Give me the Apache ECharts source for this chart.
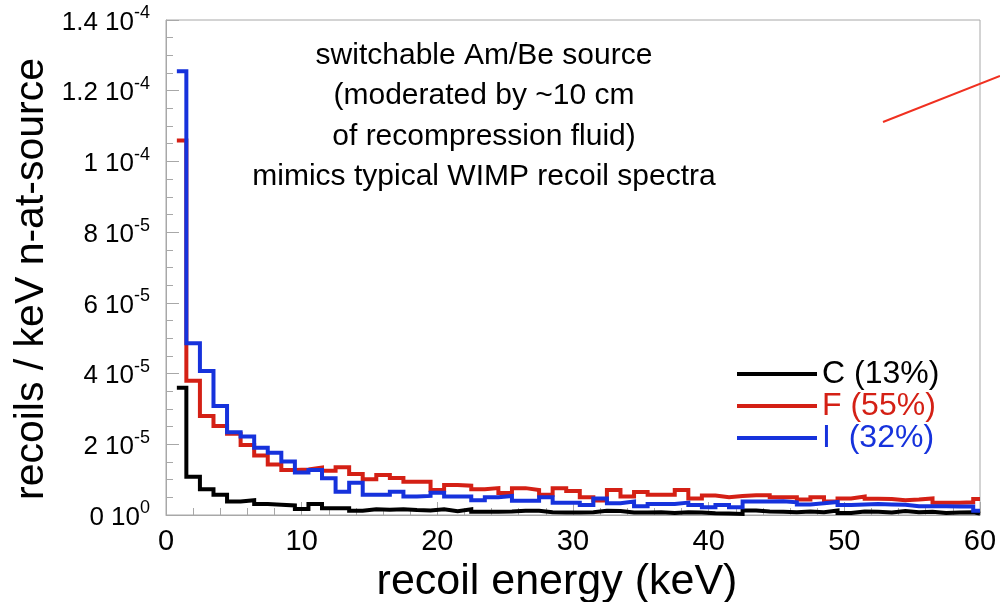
<!DOCTYPE html>
<html>
<head>
<meta charset="utf-8">
<script src="https://cdn.jsdelivr.net/npm/echarts@6/dist/echarts.min.js"></script>
<style>
html,body{margin:0;padding:0;background:#fff;}
#chart{width:1000px;height:602px;}
</style>
</head>
<body>
<div id="chart"></div>
<script>
// Bin lower edges (keV); the histogram ends at xEnd
const binEdges = [0.8,1.5,2.5,3.5,4.5,5.5,6.5,7.5,8.5,9.5,10.5,11.5,12.5,13.5,14.5,15.5,16.5,17.5,18.5,19.5,
  20.5,21.5,22.5,23.5,24.5,25.5,26.5,27.5,28.5,29.5,30.5,31.5,32.5,33.5,34.5,35.5,36.5,37.5,38.5,39.5,
  40.5,41.5,42.5,43.5,44.5,45.5,46.5,47.5,48.5,49.5,50.5,51.5,52.5,53.5,54.5,55.5,56.5,57.5,58.5,59.5];
const xEnd = 60;

const carbon = [3.6e-5,1.08e-5,7.3e-6,5.7e-6,3.8e-6,4.2e-6,3.1e-6,2.9e-6,2.7e-6,1.7e-6,
  3.1e-6,1.9e-6,1.9e-6,1.2e-6,1.6e-6,1.5e-6,1.6e-6,1.4e-6,1.3e-6,1.6e-6,
  1.1e-6,1.6e-6,0.9e-6,0.9e-6,1.0e-6,1.2e-6,1.2e-6,0.8e-6,0.7e-6,0.7e-6,
  0.8e-6,1.2e-6,1.1e-6,0.7e-6,0.7e-6,0.8e-6,0.6e-6,0.8e-6,0.7e-6,0.5e-6,
  0.4e-6,0.3e-6,1.3e-6,1.0e-6,0.9e-6,0.8e-6,1.0e-6,0.8e-6,1.3e-6,0.6e-6,
  1.0e-6,0.9e-6,0.7e-6,1.1e-6,0.8e-6,0.9e-6,0.6e-6,0.7e-6,0.8e-6,0.4e-6];

const fluorine = [1.059e-4,3.8e-5,2.80e-5,2.52e-5,2.30e-5,1.98e-5,1.68e-5,1.43e-5,1.27e-5,1.29e-5,
  1.34e-5,1.25e-5,1.35e-5,1.16e-5,1.01e-5,1.13e-5,1.05e-5,9.4e-6,9.4e-6,7.1e-6,
  8.5e-6,8.3e-6,7.3e-6,7.6e-6,6.2e-6,7.6e-6,7.1e-6,5.7e-6,7.6e-6,6.8e-6,
  5.0e-6,4.1e-6,7.1e-6,5.2e-6,6.5e-6,5.7e-6,5.7e-6,7.1e-6,4.7e-6,5.5e-6,
  5.0e-6,5.4e-6,5.6e-6,5.6e-6,5.0e-6,5.0e-6,4.4e-6,5.0e-6,3.8e-6,4.7e-6,
  5.2e-6,4.6e-6,4.5e-6,4.2e-6,4.4e-6,4.7e-6,3.5e-6,3.5e-6,3.6e-6,4.5e-6];

const iodine = [1.255e-4,4.86e-5,4.07e-5,3.08e-5,2.34e-5,2.22e-5,1.90e-5,1.76e-5,1.51e-5,1.20e-5,
  1.27e-5,1.04e-5,6.6e-6,9.1e-6,5.7e-6,5.7e-6,6.6e-6,5.2e-6,5.4e-6,6.3e-6,
  5.2e-6,5.2e-6,4.2e-6,5.0e-6,5.4e-6,4.0e-6,4.0e-6,5.0e-6,3.5e-6,3.5e-6,
  2.8e-6,4.7e-6,3.3e-6,3.8e-6,2.5e-6,3.1e-6,3.1e-6,3.5e-6,2.8e-6,2.2e-6,
  2.8e-6,2.2e-6,3.8e-6,3.8e-6,3.9e-6,3.6e-6,3.0e-6,3.3e-6,3.7e-6,2.8e-6,
  3.0e-6,3.1e-6,3.0e-6,2.9e-6,2.5e-6,2.5e-6,2.5e-6,2.4e-6,2.4e-6,1.2e-6];

const seriesNames = ['C (13%)', 'F (55%)', 'I  (32%)'];
const seriesColors = ['#000000', '#d42015', '#1632dc'];

const yTickMantissa = ['0','2','4','6','8','1','1.2','1.4'];
const yTickExponent = ['0','-5','-5','-5','-5','-4','-4','-4'];
const yStep = 2e-5;

const titleLines = ['switchable Am/Be source','(moderated by ~10 cm','of recompression fluid)','mimics typical WIMP recoil spectra'];
const xAxisTitle = 'recoil energy (keV)';
const yAxisTitle = 'recoils / keV n-at-source';

function histData(vals){
  const d = binEdges.map((e,i)=>[e, vals[i]]);
  d.push([xEnd, vals[vals.length-1]]);
  return d;
}

const FONT = "'Liberation Sans', Arial, Helvetica, sans-serif";
const AX = '#a8a8a8';

const chart = echarts.init(document.getElementById('chart'), null, {renderer:'canvas'});
const mk = (name, vals, color) => ({
  name, type:'line', step:'end', data: histData(vals), symbol:'none', showSymbol:false,
  lineStyle:{color, width:4, join:'miter', cap:'butt'}, itemStyle:{color}, animation:false, z:3
});

chart.setOption({
  animation:false,
  backgroundColor:'#fff',
  textStyle:{fontFamily:FONT},
  title:{
    text: titleLines.join('\n'), left:484, top:35, textAlign:'center', padding:0,
    textStyle:{fontFamily:FONT, fontSize:30, fontWeight:'normal', lineHeight:40.6, color:'#000'}
  },
  grid:{left:166, right:20, top:20, bottom:87, containLabel:false, outerBoundsMode:'none',
        show:true, borderColor:AX, borderWidth:1, backgroundColor:'transparent'},
  legend:{
    orient:'vertical', left:737, top:358, itemWidth:80, itemHeight:4, itemGap:0, icon:'rect',
    padding:0, selectedMode:false,
    data: seriesNames.map((n,i)=>({name:n, textStyle:{color:seriesColors[i]}})),
    textStyle:{fontFamily:FONT, fontSize:32, lineHeight:31.5}
  },
  xAxis:{
    type:'value', min:0, max:60, interval:10,
    name:xAxisTitle, nameLocation:'middle', nameGap:39,
    nameTextStyle:{fontFamily:FONT, fontSize:43, color:'#000', padding:[0,32,0,0]},
    axisLine:{show:true, lineStyle:{color:AX, width:1}},
    axisTick:{show:true, inside:true, length:13, lineStyle:{color:AX}},
    minorTick:{show:true, splitNumber:5, length:7, lineStyle:{color:AX}},
    splitLine:{show:false},
    axisLabel:{fontFamily:FONT, fontSize:29, color:'#000', margin:12}
  },
  yAxis:{
    type:'value', min:0, max:1.4e-4, interval:yStep,
    axisLine:{show:true, lineStyle:{color:AX, width:1}},
    axisTick:{show:true, inside:true, length:13, lineStyle:{color:AX}},
    minorTick:{show:true, splitNumber:4, length:7, lineStyle:{color:AX}},
    splitLine:{show:false},
    axisLabel:{
      margin:16, color:'#000', fontSize:26, fontFamily:FONT,
      formatter:function(v){
        const i = Math.round(v / yStep);
        return '{m|' + yTickMantissa[i] + ' 10}{e|' + yTickExponent[i] + '}';
      },
      rich:{
        m:{fontFamily:FONT, fontSize:26, color:'#000', verticalAlign:'bottom', lineHeight:31},
        e:{fontFamily:FONT, fontSize:18, color:'#000', verticalAlign:'top', lineHeight:31}
      }
    }
  },
  graphic:[{
    type:'text', x:32, y:279, rotation:Math.PI/2,
    style:{text:yAxisTitle, fontFamily:FONT, fontSize:41, fill:'#000', align:'center', verticalAlign:'middle'}
  },{
    type:'line', shape:{x1:883, y1:122, x2:1000, y2:76},
    style:{stroke:'#f03020', lineWidth:2}, z:10
  }],
  series:[
    mk(seriesNames[0], carbon, seriesColors[0]),
    mk(seriesNames[1], fluorine, seriesColors[1]),
    mk(seriesNames[2], iodine, seriesColors[2])
  ]
});
</script>
</body>
</html>
